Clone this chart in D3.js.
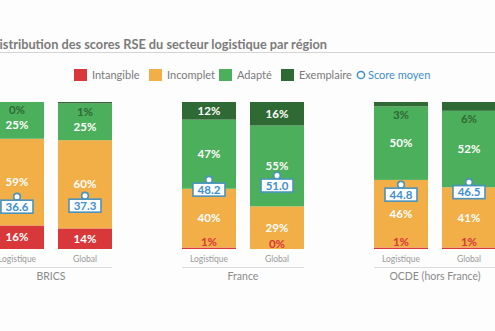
<!DOCTYPE html>
<html>
<head>
<meta charset="utf-8">
<script src="https://cdn.jsdelivr.net/npm/d3@7"></script>
<style>
  html, body { margin: 0; padding: 0; background: #fdfdfd; }
  svg { display: block; font-family: Lato, "Open Sans", sans-serif; }
</style>
</head>
<body>
<svg id="chart" width="495" height="331"></svg>
<script>
// ---- data ----
const groups = ["BRICS", "France", "OCDE (hors France)"];
const subs = ["Logistique", "Global"];
const seriesNames = ["Intangible", "Incomplet", "Adapté", "Exemplaire"];
const intangible = [16, 14, 1, 0, 1, 1];
const incomplet  = [59, 60, 40, 29, 46, 41];
const adapte     = [25, 25, 47, 55, 50, 52];
const exemplaire = [0, 1, 12, 16, 3, 6];
const scores     = [36.6, 37.3, 48.2, 51.0, 44.8, 46.5];
const scoreLabel = "Score moyen";
const title = "Distribution des scores RSE du secteur logistique par région";

const colors = ["#d8383a", "#f2ae47", "#4caf5c", "#2f6a35"];
const blue = "#3d8fd1";

const rows = [];
groups.forEach((g, gi) => subs.forEach((s, si) => {
  const i = gi * 2 + si;
  rows.push({group: g, sub: s, Intangible: intangible[i], Incomplet: incomplet[i],
             "Adapté": adapte[i], Exemplaire: exemplaire[i], score: scores[i]});
}));

const svg = d3.select("#chart");

// ---- scales ----
const x0 = d3.scaleBand().domain(groups).range([-45, 531]).padding(0);
const x1 = d3.scaleBand().domain(subs).range([35, 157]).paddingInner(0.206).paddingOuter(0);
const y = d3.scaleLinear().domain([0, 100]).range([249, 102]);

// ---- title ----
svg.append("text").attr("x", -10).attr("y", 49).attr("text-anchor", "start")
  .attr("font-size", 13.5).attr("font-weight", 700).attr("fill", "#7b7b7b")
  .attr("textLength", 337).attr("lengthAdjust", "spacingAndGlyphs").text(title);
svg.append("line").attr("x1", 0).attr("x2", 495).attr("y1", 52.5).attr("y2", 52.5)
  .attr("stroke", "#d4d4d4").attr("stroke-width", 1);

// ---- legend ----
const legendX = [74, 149, 219, 281];
const lg = svg.append("g");
seriesNames.forEach((n, i) => {
  lg.append("rect").attr("x", legendX[i]).attr("y", 69).attr("width", 13).attr("height", 12)
    .attr("fill", colors[i]);
  lg.append("text").attr("x", legendX[i] + 18).attr("y", 79).attr("font-size", 11)
    .attr("fill", "#7a7a7a").text(n);
});
lg.append("circle").attr("cx", 361).attr("cy", 75).attr("r", 3.6)
  .attr("fill", "none").attr("stroke", blue).attr("stroke-width", 1.5);
lg.append("text").attr("x", 368).attr("y", 79).attr("font-size", 11)
  .attr("fill", blue).text(scoreLabel);

// ---- bars ----
const stack = d3.stack().keys(seriesNames)(rows);
const barX = d => x0(d.group) + x1(d.sub);
const bw = x1.bandwidth();

stack.forEach((layer, li) => {
  svg.append("g").selectAll("rect").data(layer).join("rect")
    .attr("x", d => barX(d.data))
    .attr("y", d => y(d[1]))
    .attr("width", bw)
    .attr("height", d => y(d[0]) - y(d[1]))
    .attr("fill", colors[li]);
});

// ---- segment labels ----
rows.forEach((r, ri) => {
  const labs = [];
  seriesNames.forEach((k, li) => {
    const seg = stack[li][ri];
    const top = y(seg[1]), bot = y(seg[0]);
    const v = r[k];
    let cy, fill;
    if (bot - top >= 14) { cy = (top + bot) / 2; fill = "#ffffff"; }
    else if (li === 3) { cy = bot + 8; fill = colors[3]; }
    else if (li === 0) { cy = top - 5.5; fill = colors[0]; }
    else { cy = (top + bot) / 2; fill = colors[li]; }
    labs.push({cy, fill, text: v + "%"});
  });
  labs.sort((a, b) => a.cy - b.cy);
  for (let i = 1; i < labs.length; i++) {
    if (labs[i].cy - labs[i - 1].cy < 15) labs[i].cy = labs[i - 1].cy + 15;
  }
  const cx = barX(r) + bw / 2;
  labs.forEach(l => {
    svg.append("text").attr("x", cx).attr("y", l.cy).attr("dy", "0.36em")
      .attr("text-anchor", "middle").attr("font-size", 11.5).attr("font-weight", 700)
      .attr("fill", l.fill).text(l.text);
  });
});

// ---- score markers ----
rows.forEach(r => {
  const cx = barX(r) + bw / 2, cy = y(r.score);
  const g = svg.append("g");
  g.append("circle").attr("cx", cx).attr("cy", cy + 1.5).attr("r", 3.3)
    .attr("fill", "#fff").attr("stroke", "#4a93bd").attr("stroke-width", 1.6);
  g.append("rect").attr("x", cx - 16).attr("y", cy + 5).attr("width", 32).attr("height", 13)
    .attr("fill", "#fff").attr("stroke", "#4a93bd").attr("stroke-width", 1.6);
  g.append("text").attr("x", cx).attr("y", cy + 11.7).attr("dy", "0.36em")
    .attr("text-anchor", "middle").attr("font-size", 11.5).attr("font-weight", 700)
    .attr("fill", blue).text(r.score.toFixed(1));
});

// ---- x axis: sub labels, separators, group labels ----
groups.forEach(g => {
  const gx = x0(g);
  subs.forEach(s => {
    svg.append("text").attr("x", gx + x1(s) + bw / 2).attr("y", 262)
      .attr("text-anchor", "middle").attr("font-size", 8.5).attr("fill", "#9a9a9a").text(s);
  });
  svg.append("line").attr("x1", gx + x1(subs[0])).attr("x2", gx + x1(subs[1]) + bw)
    .attr("y1", 267.5).attr("y2", 267.5).attr("stroke", "#dcdcdc").attr("stroke-width", 1);
  svg.append("text").attr("x", gx + x0.bandwidth() / 2).attr("y", 280)
    .attr("text-anchor", "middle").attr("font-size", 10.5).attr("fill", "#8a8a8a").text(g);
});
</script>
</body>
</html>
